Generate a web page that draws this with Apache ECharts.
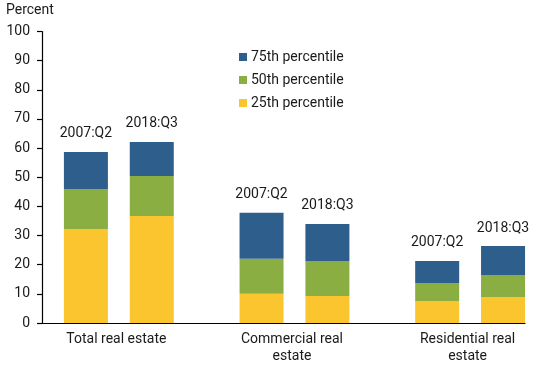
<!DOCTYPE html>
<html>
<head>
<meta charset="utf-8">
<script src="https://cdn.jsdelivr.net/npm/echarts@6/dist/echarts.min.js"></script>
<style>html,body{margin:0;padding:0;background:#fff}#c{width:550px;height:365px}</style>
</head>
<body>
<div id="c"></div>
<script>
// Data (bar order: Total 2007, Total 2018, Commercial 2007, Commercial 2018, Residential 2007, Residential 2018)
const categories = ['Total real estate', 'Commercial real\nestate', 'Residential real\nestate'];
const periods = ['2007:Q2', '2018:Q3'];
const seriesNames = ['25th percentile', '50th percentile', '75th percentile'];
// percentile levels (cumulative tops of each segment)
const pct25 = [32.2, 36.7, 10.0, 9.3, 7.5, 8.9];
const pct50 = [46.0, 50.4, 22.0, 21.3, 13.7, 16.5];
const pct75 = [58.7, 62.1, 37.8, 34.0, 21.3, 26.4];
const yTicks = [0, 10, 20, 30, 40, 50, 60, 70, 80, 90, 100];

// Layout (slot positions on a fine category axis)
const SLOTS = 23;
const barSlots = [2, 5, 10, 13, 18, 21];
const LABEL_SLOTS = 22;
const groupLabelSlots = [3, 11, 19];

const colors = ['#FBC530', '#8BAE42', '#2E5E8C'];
const textColor = '#1a1a1a';
const font = 'Roboto';

function toSlots(vals) {
  const arr = new Array(SLOTS).fill(null);
  vals.forEach((v, i) => { arr[barSlots[i]] = +v.toFixed(2); });
  return arr;
}
const seg25 = pct25;
const seg50 = pct50.map((v, i) => v - pct25[i]);
const seg75 = pct75.map((v, i) => v - pct50[i]);
const segs = [seg25, seg50, seg75];

const slotCats = Array.from({length: SLOTS}, (_, i) => 's' + i);
const labelCats = Array.from({length: LABEL_SLOTS}, () => '');
groupLabelSlots.forEach((s, i) => { labelCats[s] = categories[i]; });
for (let i = 0; i < LABEL_SLOTS; i++) if (labelCats[i] === '') labelCats[i] = '\u200b'.repeat(i + 1);

const slotPeriod = {};
barSlots.forEach((s, i) => { slotPeriod[s] = periods[i % 2]; });

const chart = echarts.init(document.getElementById('c'), null, {renderer: 'canvas'});
const series = seriesNames.map((name, k) => ({
  name: name,
  type: 'bar',
  stack: 'total',
  xAxisIndex: 0,
  barWidth: 44,
  itemStyle: {color: colors[k]},
  data: toSlots(segs[k]),
  label: k === 2 ? {
    show: true,
    position: 'top',
    distance: 11,
    fontFamily: font,
    fontSize: 14,
    color: textColor,
    formatter: p => slotPeriod[p.dataIndex] || ''
  } : {show: false},
  emphasis: {disabled: true}
}));

chart.setOption({
  animation: false,
  textStyle: {fontFamily: font},
  title: {
    text: 'Percent', left: 6, top: 3, padding: 0,
    textStyle: {fontFamily: font, fontSize: 14, fontWeight: 'normal', color: textColor}
  },
  legend: {
    orient: 'vertical', left: 239, top: 50, padding: 0,
    itemWidth: 8, itemHeight: 8, itemGap: 9,
    icon: 'rect',
    data: ['75th percentile', '50th percentile', '25th percentile'],
    textStyle: {fontFamily: font, fontSize: 14, color: textColor, padding: [0, 0, 0, -1]}
  },
  grid: {left: 42, right: 25, top: 31.5, bottom: 42, containLabel: false},
  xAxis: [
    {
      type: 'category', position: 'bottom', boundaryGap: false, data: slotCats,
      axisLine: {show: true, lineStyle: {color: '#000', width: 1.2}},
      axisTick: {show: false}, axisLabel: {show: false}, splitLine: {show: false}
    },
    {
      type: 'category', position: 'bottom', offset: 0, boundaryGap: true, data: labelCats,
      axisLine: {show: false}, axisTick: {show: false}, splitLine: {show: false},
      axisLabel: {
        show: true, interval: 0, margin: 8, fontFamily: font, fontSize: 14,
        lineHeight: 17, color: textColor, padding: [0, 5, 0, 0],
        formatter: v => (v.charAt(0) === '\u200b' ? '' : v)
      }
    }
  ],
  yAxis: {
    type: 'value', min: yTicks[0], max: yTicks[yTicks.length - 1], interval: yTicks[1] - yTicks[0],
    axisLine: {show: true, lineStyle: {color: '#000', width: 1.2}},
    axisTick: {show: true, inside: false, length: 5, lineStyle: {color: '#000', width: 1.2}},
    splitLine: {show: false},
    axisLabel: {fontFamily: font, fontSize: 14, color: textColor, margin: 12}
  },
  series: series
});
</script>
</body>
</html>
